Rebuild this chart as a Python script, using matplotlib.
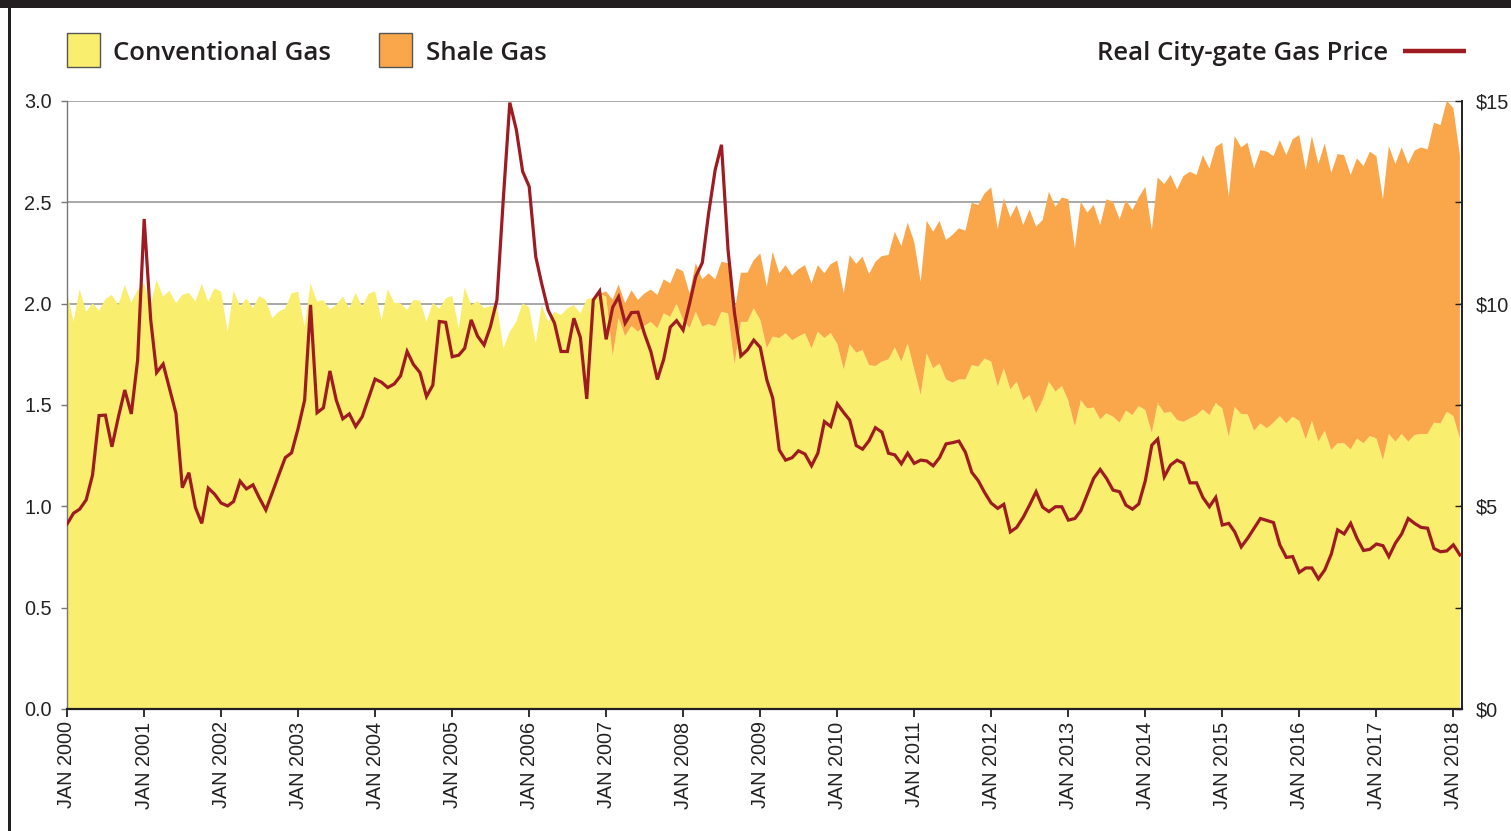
import matplotlib
matplotlib.use("Agg")
import matplotlib.pyplot as plt
from matplotlib.patches import Rectangle
from matplotlib.lines import Line2D
import pandas as pd

# ---------------- data (monthly, Jan 2000 - Feb 2018) ----------------
months = pd.date_range("2000-01-01", periods=218, freq="MS")

conventional_gas = [
    2.059, 1.911, 2.071, 1.960, 2.002, 1.965, 2.022, 2.043, 1.993, 2.092, 2.005, 2.067,
    2.100, 1.990, 2.117, 2.035, 2.064, 2.002, 2.043, 2.054, 2.010, 2.097, 2.010, 2.076,
    2.059, 1.862, 2.064, 1.985, 2.026, 1.977, 2.038, 2.018, 1.928, 1.960, 1.977, 2.051,
    2.059, 1.886, 2.100, 2.010, 2.018, 1.972, 1.993, 2.035, 1.977, 2.054, 1.985, 2.048,
    2.062, 1.919, 2.071, 2.005, 2.002, 1.969, 2.018, 2.015, 1.911, 2.005, 1.975, 2.026,
    2.038, 1.878, 2.081, 1.993, 2.013, 1.977, 1.988, 1.993, 1.780, 1.862, 1.911, 2.002,
    1.982, 1.804, 1.993, 1.911, 1.960, 1.944, 1.977, 1.993, 1.952, 2.021, 2.030, 2.048,
    2.035, 1.742, 1.930, 1.840, 1.890, 1.862, 1.890, 1.910, 1.878, 1.952, 1.935, 2.000,
    1.920, 1.880, 1.960, 1.887, 1.900, 1.887, 1.960, 1.952, 1.700, 1.910, 1.910, 1.977,
    1.920, 1.780, 1.838, 1.830, 1.854, 1.820, 1.838, 1.854, 1.780, 1.862, 1.830, 1.855,
    1.802, 1.675, 1.800, 1.758, 1.771, 1.697, 1.692, 1.714, 1.725, 1.784, 1.714, 1.804,
    1.676, 1.549, 1.755, 1.681, 1.705, 1.626, 1.610, 1.626, 1.626, 1.697, 1.689, 1.730,
    1.714, 1.590, 1.681, 1.577, 1.615, 1.524, 1.549, 1.459, 1.524, 1.615, 1.566, 1.594,
    1.521, 1.393, 1.524, 1.483, 1.488, 1.429, 1.459, 1.442, 1.413, 1.472, 1.450, 1.495,
    1.475, 1.362, 1.510, 1.460, 1.467, 1.426, 1.417, 1.434, 1.450, 1.478, 1.450, 1.511,
    1.483, 1.343, 1.491, 1.455, 1.455, 1.373, 1.409, 1.385, 1.413, 1.445, 1.409, 1.442,
    1.422, 1.330, 1.422, 1.319, 1.373, 1.278, 1.311, 1.311, 1.281, 1.335, 1.311, 1.347,
    1.335, 1.228, 1.357, 1.319, 1.357, 1.319, 1.352, 1.357, 1.357, 1.413, 1.409, 1.467,
    1.445, 1.335,
]

shale_gas = [0.0] * 83 + [
    0.000, 0.025, 0.278, 0.165, 0.162, 0.176, 0.156, 0.160, 0.160, 0.165, 0.168, 0.165,
    0.175, 0.240, 0.170, 0.240, 0.233, 0.250, 0.233, 0.247, 0.247, 0.260, 0.243, 0.243,
    0.238, 0.328, 0.304, 0.418, 0.320, 0.336, 0.320, 0.332, 0.336, 0.320, 0.328, 0.320,
    0.340, 0.411, 0.376, 0.440, 0.438, 0.461, 0.449, 0.515, 0.521, 0.515, 0.571, 0.570,
    0.596, 0.630, 0.559, 0.654, 0.674, 0.704, 0.688, 0.729, 0.746, 0.734, 0.801, 0.798,
    0.814, 0.860, 0.777, 0.839, 0.849, 0.872, 0.864, 0.916, 0.921, 0.889, 0.937, 0.912,
    0.930, 0.994, 0.880, 0.979, 0.966, 0.999, 0.959, 1.056, 1.061, 1.003, 1.039, 1.012,
    1.029, 1.102, 1.001, 1.113, 1.130, 1.168, 1.138, 1.213, 1.217, 1.185, 1.255, 1.217,
    1.263, 1.311, 1.185, 1.336, 1.316, 1.339, 1.294, 1.349, 1.365, 1.315, 1.362, 1.324,
    1.369, 1.410, 1.329, 1.405, 1.370, 1.418, 1.368, 1.427, 1.422, 1.354, 1.382, 1.368,
    1.403, 1.393, 1.287, 1.421, 1.370, 1.414, 1.370, 1.403, 1.414, 1.404, 1.480, 1.472,
    1.534, 1.519, 1.398,
]

gas_price = [
    4.56, 4.83, 4.93, 5.16, 5.77, 7.24, 7.25, 6.47, 7.21, 7.87, 7.28, 8.61,
    12.09, 9.60, 8.30, 8.51, 7.91, 7.29, 5.46, 5.83, 4.97, 4.58, 5.45, 5.30,
    5.08, 5.01, 5.12, 5.62, 5.43, 5.53, 5.21, 4.91, 5.34, 5.77, 6.20, 6.32,
    6.92, 7.62, 9.97, 7.31, 7.43, 8.34, 7.62, 7.16, 7.28, 6.97, 7.21, 7.67,
    8.14, 8.06, 7.93, 8.02, 8.22, 8.82, 8.50, 8.30, 7.71, 7.99, 9.56, 9.54,
    8.69, 8.73, 8.90, 9.60, 9.20, 8.98, 9.43, 10.09, 12.64, 14.96, 14.29, 13.26,
    12.89, 11.16, 10.50, 9.84, 9.52, 8.82, 8.82, 9.64, 9.16, 7.65, 10.09, 10.31,
    9.12, 9.91, 10.17, 9.52, 9.78, 9.79, 9.27, 8.82, 8.13, 8.63, 9.42, 9.58,
    9.35, 10.01, 10.67, 11.01, 12.23, 13.30, 13.92, 11.33, 9.76, 8.71, 8.86, 9.10,
    8.92, 8.12, 7.67, 6.39, 6.14, 6.20, 6.37, 6.29, 6.00, 6.31, 7.09, 6.97,
    7.53, 7.31, 7.13, 6.50, 6.41, 6.62, 6.94, 6.83, 6.31, 6.27, 6.05, 6.31,
    6.06, 6.14, 6.12, 6.00, 6.20, 6.54, 6.57, 6.61, 6.33, 5.84, 5.63, 5.34,
    5.08, 4.95, 5.05, 4.37, 4.48, 4.73, 5.03, 5.36, 4.98, 4.87, 4.99, 4.99,
    4.66, 4.70, 4.89, 5.30, 5.69, 5.91, 5.69, 5.40, 5.36, 5.03, 4.93, 5.06,
    5.63, 6.51, 6.66, 5.73, 6.02, 6.14, 6.06, 5.58, 5.58, 5.22, 4.99, 5.22,
    4.54, 4.58, 4.37, 4.00, 4.21, 4.46, 4.70, 4.65, 4.60, 4.05, 3.74, 3.76,
    3.37, 3.48, 3.48, 3.21, 3.43, 3.82, 4.42, 4.32, 4.58, 4.21, 3.91, 3.94,
    4.07, 4.03, 3.76, 4.09, 4.32, 4.70, 4.58, 4.48, 4.46, 3.96, 3.88, 3.90,
    4.05, 3.80,
]

left_ticks = [0.0, 0.5, 1.0, 1.5, 2.0, 2.5, 3.0]
right_ticks = [0, 2.5, 5, 7.5, 10, 12.5, 15]
right_labels = ["$0", "", "$5", "", "$10", "", "$15"]
year_ticks = list(range(2000, 2019))

# ---------------- style ----------------
YELLOW = "#FAEE6E"
ORANGE = "#FAA74C"
RED = "#9E1B22"
DARK = "#231F20"
TICKFONT = "Liberation Sans"
LEGFONT = "Open Sans"
TFS = 14.3

W, H = 1511, 831
fig = plt.figure(figsize=(W / 100, H / 100), dpi=100)
fig.patch.set_facecolor("white")

ax = fig.add_axes([67 / W, 1 - 709 / H, (1462 - 67) / W, (709 - 101) / H])
ax.stackplot(months, conventional_gas, shale_gas, colors=[YELLOW, ORANGE],
             linewidth=0, zorder=2)
ax.set_ylim(0, 3.0)
ax.set_xlim(months[0], months[-1] + pd.Timedelta(days=10))
ax.set_axisbelow(True)
ax.set_yticks(left_ticks)
ax.set_yticklabels([f"{v:.1f}" for v in left_ticks], fontsize=TFS,
                   fontfamily=TICKFONT, color="#222222")
ax.yaxis.grid(True, color="#9A9A9A", linewidth=1.2, zorder=0)
ax.tick_params(axis="y", direction="out", length=4, width=1, color="#777777", pad=7)

xt = [pd.Timestamp(f"{y}-01-01") for y in year_ticks]
ax.set_xticks(xt)
ax.set_xticklabels([f"JAN {y}" for y in year_ticks], rotation=90, fontsize=TFS,
                   fontfamily=TICKFONT, color="#222222")
ax.tick_params(axis="x", direction="out", length=6, width=1.3, color=DARK, pad=3)

ax.spines["top"].set_visible(False)
ax.spines["left"].set_color("#777777")
ax.spines["left"].set_linewidth(1.0)
ax.spines["bottom"].set_color(DARK)
ax.spines["bottom"].set_linewidth(1.6)
ax.spines["right"].set_visible(False)

ax2 = ax.twinx()
ax2.plot(months, gas_price, color=RED, linewidth=2.3, solid_joinstyle="miter", zorder=5)
ax2.set_ylim(0, 15)
ax2.set_yticks(right_ticks)
ax2.set_yticklabels(right_labels, fontsize=TFS, fontfamily=TICKFONT, color="#222222")
ax2.tick_params(axis="y", direction="in", length=5, width=1, color=DARK, pad=10)
for s in ["top", "left", "bottom"]:
    ax2.spines[s].set_visible(False)
ax2.spines["right"].set_color(DARK)
ax2.spines["right"].set_linewidth(1.4)

# ---------------- frame decorations ----------------
fig.patches.append(Rectangle((0, 1 - 8 / H), 1, 8 / H, transform=fig.transFigure,
                             facecolor=DARK, edgecolor="none", zorder=10))
fig.patches.append(Rectangle((8 / W, 0), 2.5 / W, 1, transform=fig.transFigure,
                             facecolor=DARK, edgecolor="none", zorder=10))

# ---------------- legend ----------------
def fy(y):
    return 1 - y / H

fig.patches.append(Rectangle((67 / W, fy(67)), 33 / W, 34 / H, transform=fig.transFigure,
                             facecolor=YELLOW, edgecolor="#555555", linewidth=1.0))
fig.text(113 / W, fy(53), "Conventional Gas", fontsize=18.5, fontfamily=LEGFONT,
         fontweight="semibold", color=DARK, va="center", ha="left")
fig.patches.append(Rectangle((379 / W, fy(67)), 33 / W, 34 / H, transform=fig.transFigure,
                             facecolor=ORANGE, edgecolor="#555555", linewidth=1.0))
fig.text(426 / W, fy(53), "Shale Gas", fontsize=18.5, fontfamily=LEGFONT,
         fontweight="semibold", color=DARK, va="center", ha="left")
fig.text(1388 / W, fy(53), "Real City-gate Gas Price", fontsize=18.5, fontfamily=LEGFONT,
         fontweight="semibold", color=DARK, va="center", ha="right")
fig.lines.append(Line2D([1403 / W, 1466 / W], [fy(51), fy(51)], transform=fig.transFigure,
                        color=RED, linewidth=3.2, solid_capstyle="butt"))

fig.savefig("out.png", dpi=100)
